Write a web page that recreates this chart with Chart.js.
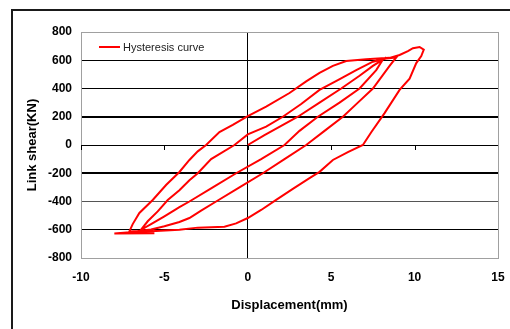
<!DOCTYPE html>
<html>
<head>
<meta charset="utf-8">
<script src="https://cdn.jsdelivr.net/npm/chart.js@4.4.1/dist/chart.umd.min.js"></script>
<style>
    html, body { margin: 0; padding: 0; background: #fff; overflow: hidden; }
    #wrap { position: relative; width: 510px; height: 329px; }
    #frame { position: absolute; left: 11px; top: 9px; width: 560px; height: 400px; border: 2px solid #1a1a1a; box-sizing: border-box; }
    #chart { position: absolute; left: 0; top: 0; }
</style>
</head>
<body>
<div id="wrap">
    <div id="frame"></div>
    <canvas id="chart" width="510" height="329"></canvas>
</div>
<script>
// branches of the loop (mm, kN)
var virginX = [0, 1.0, 2.0, 3.0, 4.3, 5.6, 6.7, 7.5, 8.1];
var virginY = [0, 70, 135, 200, 300, 400, 490, 560, 605];

var drop1X = [8.1, 7.7, 6.7, 5.5, 4.2, 3.1, 2.2, 0.8, -0.7, -2.1, -3.5, -4.1, -5.0, -5.8, -6.4];
var drop1Y = [605, 530, 400, 300, 200, 100, 0, -100, -200, -300, -400, -440, -505, -560, -600];

var rise1X = [-6.4, -6.0, -5.4, -4.8, -4.1, -3.5, -3.0, -2.2, -0.8, 0, 1.1, 2.1, 3.2, 4.3, 5.4, 6.5, 7.5, 8.3, 8.9];
var rise1Y = [-600, -540, -470, -390, -320, -250, -200, -100, 0, 75, 130, 200, 290, 390, 460, 530, 590, 612, 620];

var drop2X = [8.9, 8.5, 7.5, 6.6, 5.7, 4.6, 3.5, 2.2, 0.9, -0.5, -1.9, -2.8, -3.5, -4.1, -5.0, -5.8, -6.6, -7.1];
var drop2Y = [620, 560, 400, 300, 200, 100, 0, -100, -200, -300, -400, -465, -517, -545, -575, -598, -608, -612];

var rise2X = [-7.1, -6.9, -6.5, -5.7, -4.9, -4.1, -3.5, -3.0, -2.5, -1.7, -0.9, 0, 1.1, 2.5, 3.5, 4.3, 5.1, 5.9, 7.1, 8.5, 9.1, 9.6, 9.9, 10.3, 10.55];
var rise2Y = [-612, -560, -481, -389, -283, -191, -106, -45, 0, 92, 142, 205, 272, 368, 450, 510, 560, 595, 607, 617, 637, 665, 685, 694, 675];

var drop3X = [10.55, 10.4, 10.1, 9.7, 9.1, 8.2, 7.4, 6.9, 6.0, 5.1, 4.3, 3.7, 2.7, 1.7, 0.8, 0, -0.7, -1.4, -3.0, -4.1, -5.5, -6.5, -8.0, -5.6];
var drop3Y = [675, 630, 580, 470, 390, 226, 90, 0, -50, -106, -190, -234, -310, -389, -460, -517, -555, -578, -585, -600, -608, -612, -627, -625];

var xTicks = [-10, -5, 0, 5, 10, 15];
var yTicks = [-800, -600, -400, -200, 0, 200, 400, 600, 800];

var FONT = '"Liberation Sans", Arial, sans-serif';

function toPoints(xs, ys) {
    return xs.map(function(x, i) { return { x: x, y: ys[i] }; });
}

var curve = []
    .concat(toPoints(virginX, virginY))
    .concat(toPoints(drop1X, drop1Y))
    .concat(toPoints(rise1X, rise1Y))
    .concat(toPoints(drop2X, drop2Y))
    .concat(toPoints(rise2X, rise2Y))
    .concat(toPoints(drop3X, drop3Y));

// legend sits inside the plot, top-left
var insideLegend = {
    id: 'insideLegend',
    afterDatasetsDraw: function(chart) {
        var a = chart.chartArea, c = chart.ctx, ds = chart.data.datasets[0];
        var y = a.top + 15;
        c.save();
        c.strokeStyle = ds.borderColor;
        c.lineWidth = 2;
        c.beginPath();
        c.moveTo(a.left + 18, y);
        c.lineTo(a.left + 39, y);
        c.stroke();
        c.fillStyle = '#222';
        c.font = '11px ' + FONT;
        c.textBaseline = 'middle';
        c.fillText(ds.label, a.left + 42, y + 1);
        c.restore();
    }
};

// small tick marks hanging under the y=0 axis line
var zeroAxisTicks = {
    id: 'zeroAxisTicks',
    beforeDatasetsDraw: function(chart) {
        var xs = chart.scales.x, c = chart.ctx;
        var y0 = Math.round(chart.scales.y.getPixelForValue(0));
        c.save();
        c.lineWidth = 1;
        xs.ticks.forEach(function(t) {
            var px = Math.round(xs.getPixelForValue(t.value)) + 0.5;
            c.strokeStyle = t.value === 15 ? '#999' : '#000';
            c.beginPath();
            c.moveTo(px, y0);
            c.lineTo(px, y0 + 5);
            c.stroke();
        });
        c.restore();
    }
};

new Chart(document.getElementById('chart'), {
    type: 'scatter',
    data: {
        datasets: [{
            label: 'Hysteresis curve',
            data: curve,
            showLine: true,
            borderColor: '#ff0000',
            borderWidth: 2,
            pointRadius: 0,
            tension: 0,
            fill: false
        }]
    },
    options: {
        responsive: false,
        animation: false,
        layout: { padding: { left: 0, right: 12, top: 32, bottom: 0 } },
        plugins: { legend: { display: false }, tooltip: { enabled: false } },
        scales: {
            x: {
                type: 'linear',
                min: -10,
                max: 15,
                afterBuildTicks: function(s) { s.ticks = xTicks.map(function(v) { return { value: v }; }); },
                afterFit: function(s) { s.height = 71; s.paddingLeft = 0; s.paddingRight = 0; },
                ticks: { padding: 12, color: '#000', font: { family: FONT, size: 12, weight: 'bold' } },
                grid: {
                    drawTicks: false,
                    lineWidth: 1,
                    color: function(ctx) {
                        var v = ctx.tick && ctx.tick.value;
                        if (v === 0) return '#000';
                        if (v === -10 || v === 15) return '#a0a0a0';
                        return 'rgba(0,0,0,0)';
                    }
                },
                border: { display: true, color: '#a0a0a0' },
                title: {
                    display: true,
                    text: 'Displacement(mm)',
                    color: '#000',
                    font: { family: FONT, size: 13, weight: 'bold' },
                    padding: { top: 0, bottom: 16 }
                }
            },
            y: {
                type: 'linear',
                min: -800,
                max: 800,
                afterBuildTicks: function(s) { s.ticks = yTicks.map(function(v) { return { value: v }; }); },
                afterFit: function(s) { s.width = 81; s.paddingTop = 0; s.paddingBottom = 0; },
                ticks: { padding: 9, color: '#000', font: { family: FONT, size: 12, weight: 'bold' } },
                grid: {
                    drawTicks: false,
                    color: function(ctx) {
                        var v = ctx.tick && ctx.tick.value;
                        if (v === 800 || v === -800) return '#a0a0a0';
                        if (v === -400) return '#555';
                        return '#000';
                    },
                    lineWidth: function(ctx) {
                        var v = ctx.tick && ctx.tick.value;
                        return (v === 200 || v === -200) ? 2 : 1;
                    }
                },
                border: { display: true, color: '#a0a0a0' },
                title: {
                    display: true,
                    text: 'Link shear(KN)',
                    color: '#000',
                    font: { family: FONT, size: 13, weight: 'bold' },
                    padding: { top: 25, bottom: 0 }
                }
            }
        }
    },
    plugins: [zeroAxisTicks, insideLegend]
});
</script>
</body>
</html>
